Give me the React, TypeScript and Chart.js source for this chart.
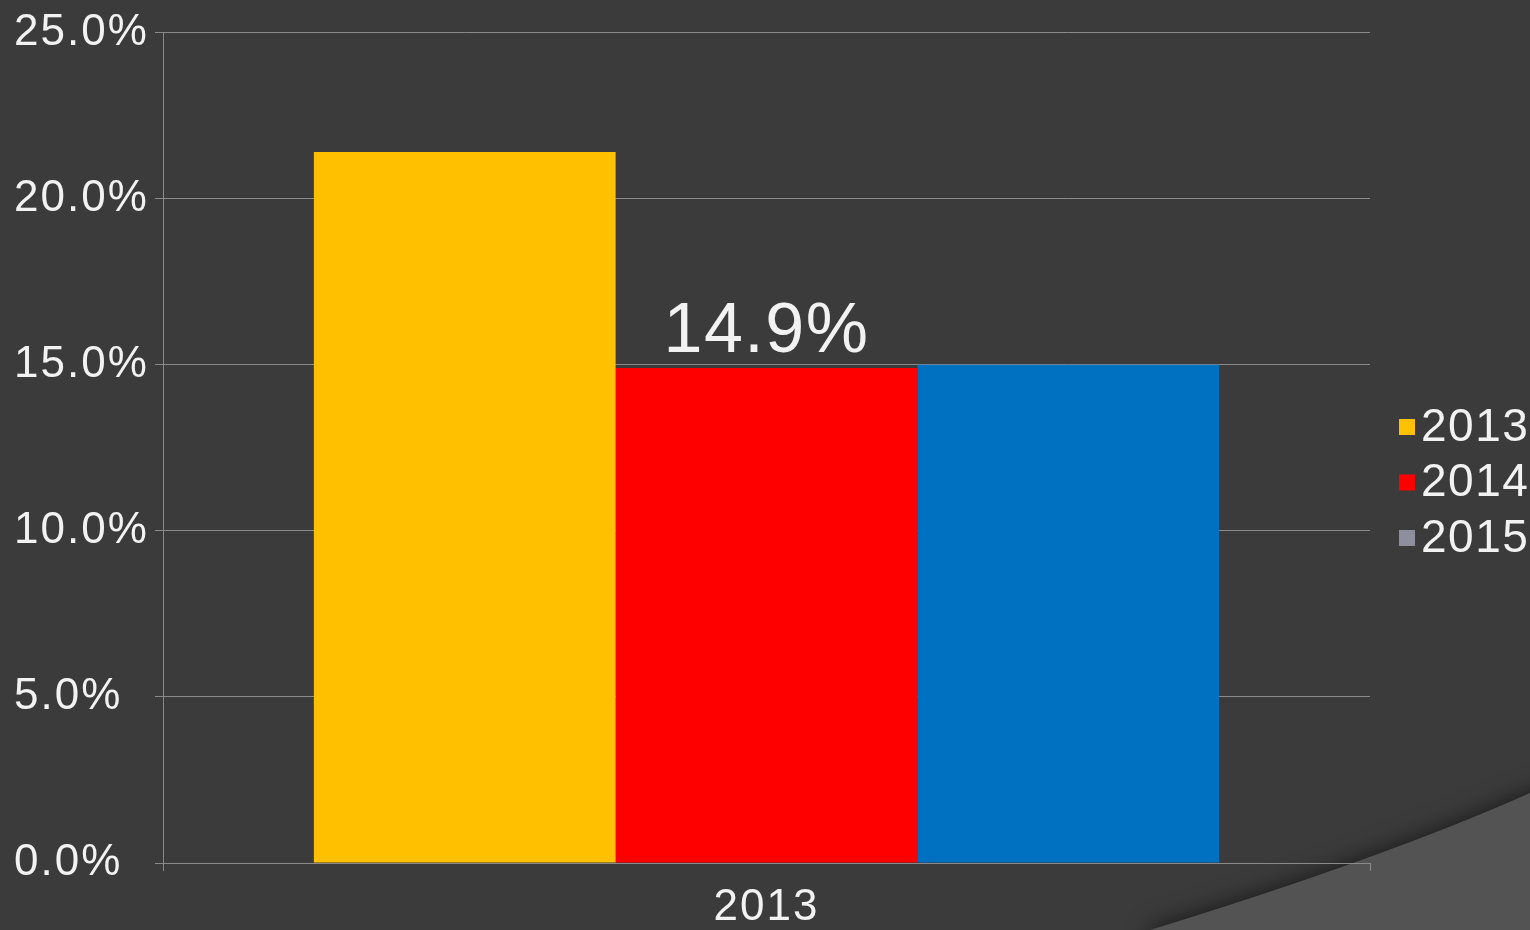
import React, { useEffect, useRef } from 'react';
import { Chart, registerables } from 'chart.js';

Chart.register(...registerables);

const categories = ['2013'];
const seriesLabels = ['2013', '2014', '2015'];
const series2013 = [21.4];
const series2014 = [14.9];
const series2015 = [15.0];
const barColors = ['#FFC000', '#FF0000', '#0070C0'];
const legendColors = ['#FFC000', '#FF0000', '#8E8E9C'];
const labeledSeries = ['2014'];
const yTickValues = [0, 5, 10, 15, 20, 25];

const FONT = '"Liberation Sans", Arial, sans-serif';
const TEXT = '#f2f2f2';
const GRID = '#8a8a8a';
const BG = '#3b3b3b';

const backgroundPlugin = {
  id: 'slideBackground',
  beforeDraw(chart: any) {
    const { ctx, width, height } = chart;
    (ctx as any).letterSpacing = '2px';
    ctx.save();
    ctx.fillStyle = BG;
    ctx.fillRect(0, 0, width, height);
    ctx.shadowColor = 'rgba(0,0,0,0.55)';
    ctx.shadowBlur = 22;
    ctx.shadowOffsetY = -2;
    ctx.fillStyle = '#535353';
    ctx.beginPath();
    ctx.moveTo(1150, height + 40);
    ctx.lineTo(1150, height);
    ctx.quadraticCurveTo(1384, 858, width, 793);
    ctx.lineTo(width + 40, 793);
    ctx.lineTo(width + 40, height + 40);
    ctx.closePath();
    ctx.fill();
    ctx.restore();
  },
};

const dataLabelPlugin = {
  id: 'dataLabels',
  afterDatasetsDraw(chart: any) {
    const { ctx } = chart;
    ctx.save();
    (ctx as any).letterSpacing = '1.5px';
    ctx.fillStyle = TEXT;
    ctx.font = `70px ${FONT}`;
    ctx.textAlign = 'center';
    ctx.textBaseline = 'alphabetic';
    chart.data.datasets.forEach((ds: any, i: number) => {
      if (!labeledSeries.includes(ds.label)) return;
      const meta = chart.getDatasetMeta(i);
      meta.data.forEach((bar: any, j: number) => {
        const v = ds.data[j] as number;
        ctx.fillText(v.toFixed(1) + '%', bar.x, bar.y - 16);
      });
    });
    ctx.restore();
  },
};

const legendPlugin = {
  id: 'sideLegend',
  afterDraw(chart: any) {
    const { ctx, chartArea } = chart;
    ctx.save();
    (ctx as any).letterSpacing = '1.5px';
    ctx.font = `46px ${FONT}`;
    ctx.textBaseline = 'middle';
    ctx.textAlign = 'left';
    const x0 = chartArea.right + 29;
    const y0 = 427;
    const step = 55.5;
    chart.data.datasets.forEach((ds: any, i: number) => {
      const cy = y0 + i * step;
      ctx.fillStyle = legendColors[i];
      ctx.fillRect(x0, cy - 8, 16, 16);
      ctx.fillStyle = TEXT;
      ctx.fillText(ds.label, x0 + 22, cy + 1);
    });
    ctx.restore();
  },
};

export default function App() {
  const ref = useRef<HTMLCanvasElement>(null);

  useEffect(() => {
    if (!ref.current) return;
    const seriesValues = [series2013, series2014, series2015];
    const chart = new Chart(ref.current, {
      type: 'bar',
      data: {
        labels: categories,
        datasets: seriesLabels.map((label, i) => ({
          label,
          data: seriesValues[i],
          backgroundColor: barColors[i],
          borderWidth: 0,
          categoryPercentage: 0.75,
          barPercentage: 1,
        })),
      },
      options: {
        responsive: false,
        animation: false,
        layout: { padding: { left: 14, top: 31, right: 160, bottom: 0 } },
        plugins: {
          legend: { display: false },
          tooltip: { enabled: false },
        },
        scales: {
          x: {
            grid: {
              display: true,
              drawOnChartArea: false,
              drawTicks: true,
              tickLength: 8,
              color: GRID,
            },
            border: { color: GRID, width: 1 },
            ticks: { color: TEXT, font: { family: FONT, size: 44 }, padding: 10 },
            afterFit: (s: any) => {
              s.height = 67;
            },
          },
          y: {
            min: 0,
            max: 25,
            afterBuildTicks: (s: any) => {
              s.ticks = yTickValues.map((v) => ({ value: v }));
            },
            ticks: {
              color: TEXT,
              font: { family: FONT, size: 44 },
              crossAlign: 'far',
              padding: 6,
              callback: (v: any) => Number(v).toFixed(1) + '%',
            },
            grid: { color: GRID, tickLength: 8, lineWidth: 1 },
            border: { color: GRID, width: 1 },
            afterFit: (s: any) => {
              s.width = 149;
            },
          },
        },
      },
      plugins: [backgroundPlugin, dataLabelPlugin, legendPlugin],
    });
    return () => chart.destroy();
  }, []);

  return (
    <div style={{ position: 'absolute', left: 0, top: 0, width: 1530, height: 930 }}>
      <canvas ref={ref} width={1530} height={930} style={{ display: 'block' }} />
    </div>
  );
}
